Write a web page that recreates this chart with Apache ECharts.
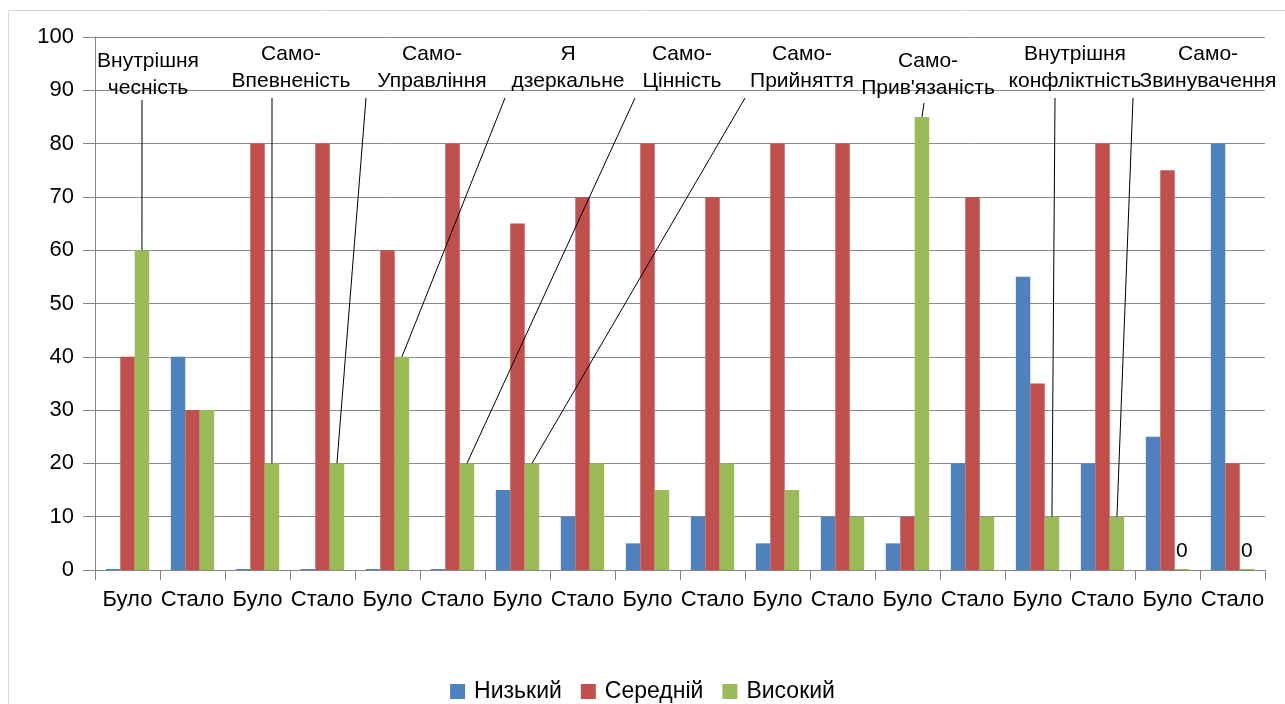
<!DOCTYPE html>
<html>
<head>
<meta charset="utf-8">
<script src="https://cdn.jsdelivr.net/npm/echarts@6/dist/echarts.min.js"></script>
<style>
  html, body { margin: 0; padding: 0; background: #ffffff; }
  #chart { width: 1285px; height: 704px; }
</style>
</head>
<body>
<div id="chart"></div>
<script>
// Before / after pairs, one pair per scale
const categories = ['Було', 'Стало', 'Було', 'Стало', 'Було', 'Стало', 'Було', 'Стало', 'Було',
                    'Стало', 'Було', 'Стало', 'Було', 'Стало', 'Було', 'Стало', 'Було', 'Стало'];
const seriesNames = ['Низький', 'Середній', 'Високий'];
const lowValues  = [0, 40, 0, 0, 0, 0, 15, 10, 5, 10, 5, 10, 5, 20, 55, 20, 25, 80];
const midValues  = [40, 30, 80, 80, 60, 80, 65, 70, 80, 70, 80, 80, 10, 70, 35, 80, 75, 20];
const highValues = [60, 30, 20, 20, 40, 20, 20, 20, 15, 20, 15, 10, 85, 10, 10, 10, 0, 0];
const yTicks = { min: 0, max: 100, interval: 10 };

// Scale names, each one attached to a bar of the "Високий" series
const scaleNames = ['Внутрішня\nчесність', 'Само-\nВпевненість', 'Само-\nУправління', 'Я\nдзеркальне',
                    'Само-\nЦінність', 'Само-\nПрийняття', "Само-\nПрив'язаність",
                    'Внутрішня\nконфліктність', 'Само-\nЗвинувачення'];
const scaleBarIndex = [0, 2, 3, 4, 5, 6, 12, 14, 15];

// Where each scale name sits (text centre x, text top y) and where its leader line starts
const namePlacement = [
  { x: 148, y: 48, lx: 142, ly: 100 },
  { x: 291, y: 41, lx: 272, ly: 98 },
  { x: 432, y: 41, lx: 366, ly: 98 },
  { x: 568, y: 41, lx: 505, ly: 98 },
  { x: 682, y: 41, lx: 635, ly: 98 },
  { x: 802, y: 41, lx: 745, ly: 98 },
  { x: 928, y: 48, lx: 924, ly: 103 },
  { x: 1075, y: 41, lx: 1055, ly: 98 },
  { x: 1208, y: 41, lx: 1133, ly: 98 }
];

const FONT = '"Liberation Sans", Arial, sans-serif';
const COLORS = ['#4F81BD', '#C0504D', '#9BBB59'];

const chart = echarts.init(document.getElementById('chart'), null, { renderer: 'canvas' });

function barSeries(name, values, extra) {
  return Object.assign({
    name: name,
    type: 'bar',
    data: values,
    barGap: '0%',
    barCategoryGap: '33.3%',
    barMinHeight: 1,
    animation: false
  }, extra || {});
}

const option = {
  animation: false,
  color: COLORS,
  textStyle: { fontFamily: FONT },
  grid: { left: 95, right: 20, top: 37, bottom: 134, containLabel: false },
  legend: {
    data: seriesNames,
    top: 675,
    left: 'center',
    icon: 'rect',
    itemWidth: 15,
    itemHeight: 15,
    itemGap: 19,
    textStyle: { fontSize: 23, color: '#000', fontFamily: FONT, padding: [0, 0, 0, 4] }
  },
  xAxis: {
    type: 'category',
    data: categories,
    axisLine: { lineStyle: { color: '#868686', width: 1 } },
    axisTick: { show: true, length: 10, lineStyle: { color: '#868686' } },
    axisLabel: { interval: 0, fontSize: 22, color: '#000', margin: 19, fontFamily: FONT }
  },
  yAxis: {
    type: 'value',
    min: yTicks.min,
    max: yTicks.max,
    interval: yTicks.interval,
    axisLine: { show: true, lineStyle: { color: '#868686', width: 1 } },
    axisTick: { show: true, length: 12, lineStyle: { color: '#868686' } },
    splitLine: { lineStyle: { color: '#8a8a8a', width: 1 } },
    axisLabel: { fontSize: 22, color: '#000', margin: 21, fontFamily: FONT }
  },
  series: [
    barSeries(seriesNames[0], lowValues),
    barSeries(seriesNames[1], midValues),
    barSeries(seriesNames[2], highValues, {
      label: {
        show: true,
        position: 'top',
        distance: 4,
        color: '#000',
        fontSize: 21,
        lineHeight: 27,
        fontFamily: FONT,
        formatter: function (p) {
          const k = scaleBarIndex.indexOf(p.dataIndex);
          if (k >= 0) return scaleNames[k];
          return p.value === 0 ? '0' : '';
        }
      },
      labelLayout: function (p) {
        const k = scaleBarIndex.indexOf(p.dataIndex);
        if (k < 0) return {};
        const pos = namePlacement[k];
        return { x: pos.x, y: pos.y, align: 'center', verticalAlign: 'top' };
      }
    })
  ]
};

chart.setOption(option);

// Chart frame, and leader lines from each scale name down to the top of its bar
function drawLeaders() {
  const data = chart.getModel().getSeriesByIndex(2).getData();
  const elements = [{
    type: 'rect',
    shape: { x: 8.5, y: 10.5, width: 1300, height: 720 },
    style: { fill: 'none', stroke: '#d9d9d9', lineWidth: 1 },
    silent: true, z: -1
  }];
  scaleBarIndex.forEach(function (idx, k) {
    const l = data.getItemLayout(idx);
    const bx = l.x + l.width / 2;
    const by = Math.min(l.y, l.y + l.height);
    const p = namePlacement[k];
    elements.push({
      type: 'line',
      shape: { x1: p.lx, y1: p.ly, x2: bx, y2: by },
      style: { stroke: '#000', lineWidth: 1 },
      silent: true, z: 10
    });
  });
  chart.setOption({ graphic: { elements: elements } });
}
drawLeaders();
</script>
</body>
</html>
